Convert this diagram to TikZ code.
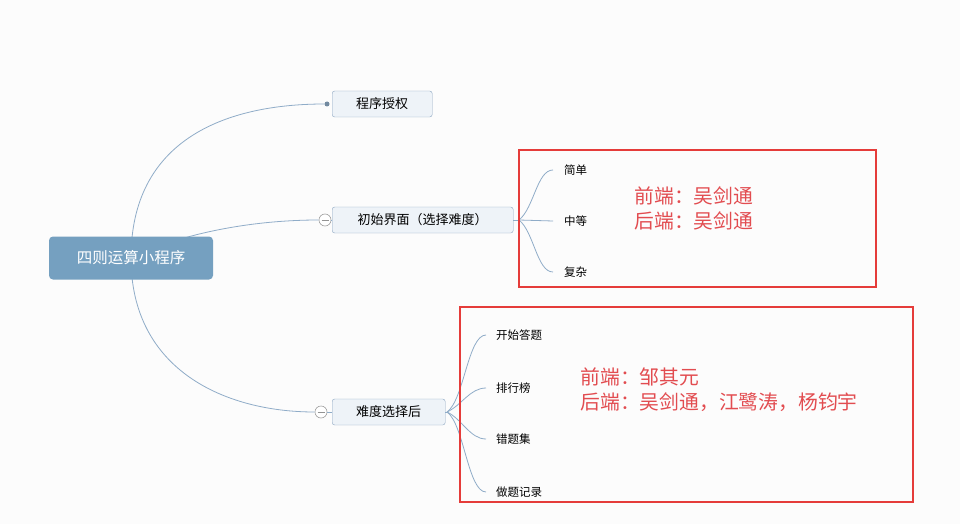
\documentclass[tikz,border=0pt]{standalone}
\usepackage{fontspec}
\newfontfamily\cjk{Noto Sans CJK SC}
\usetikzlibrary{positioning}
\definecolor{rootblue}{RGB}{117,160,192}
\definecolor{boxfill}{RGB}{238,243,248}
\definecolor{boxline}{RGB}{140,166,193}
\definecolor{linkblue}{RGB}{143,172,200}
\definecolor{markred}{RGB}{229,60,58}
\definecolor{notered}{RGB}{226,76,80}
\definecolor{paper}{RGB}{252,252,252}

\begin{document}
\begin{tikzpicture}[x=1pt, y=-1pt,
    root/.style={rectangle, fill=rootblue, text=white, rounded corners=4pt, minimum width=164pt, minimum height=43pt, font=\cjk\fontsize{15.5}{15.5}\selectfont},
    topic/.style={rectangle, draw=boxline, fill=boxfill, rounded corners=2.5pt, minimum height=26pt, anchor=west, font=\cjk\fontsize{13}{13}\selectfont},
    leaf/.style={anchor=west, inner sep=0pt, font=\cjk\fontsize{11.5}{11.5}\selectfont},
    link/.style={draw=linkblue, line width=0.8pt},
    fold/.style={circle, draw=gray!75, fill=white, minimum size=12pt, inner sep=0pt, line width=0.6pt,
        path picture={\draw[gray!85, line width=0.7pt] ([xshift=2.5pt]path picture bounding box.west) -- ([xshift=-2.5pt]path picture bounding box.east);}},
    knob/.style={circle, fill=linkblue!80!black, minimum size=5pt, inner sep=0pt},
    frame/.style={draw=markred, line width=2.8pt},
    note/.style={anchor=west, align=left, text=notered, font=\cjk\fontsize{19.8}{24.5}\selectfont}
]
\fill[paper] (0,0) rectangle (960,524);

% main topic and its three branches
\coordinate (hub) at (131,258);
\node[topic, minimum width=100pt] (auth) at (332,104) {程序授权};
\node[topic, minimum width=181pt] (start) at (332,220) {初始界面（选择难度）};
\node[topic, minimum width=113pt] (after) at (332,412) {难度选择后};
\node[knob] (dot) at (327,104) {};
\node[fold] (fold1) at (325,220) {};
\node[fold] (fold2) at (321,412) {};

\draw[link] (hub) .. controls (131,140) and (225,104) .. (dot);
\draw[link] (hub) .. controls (175,236) and (245,220) .. (fold1.west);
\draw[link] (hub) .. controls (131,370) and (225,412) .. (fold2.west);
\draw[link] (fold1) -- (start);
\draw[link] (fold2) -- (after);

\node[root] (root) at (hub) {四则运算小程序};

% difficulty levels
\node[leaf] (easy) at (564,170) {简单};
\node[leaf] (mid) at (564,221) {中等};
\node[leaf] (hard) at (564,272) {复杂};
\coordinate (fan1) at (519,220);
\draw[link] (start.east) -- (fan1);
\draw[link] (fan1) .. controls (534,208) and (537,170) .. ([xshift=-11pt]easy.west);
\draw[link] (fan1) -- ([xshift=-11pt]mid.west);
\draw[link] (fan1) .. controls (534,232) and (537,272) .. ([xshift=-11pt]hard.west);

% after choosing
\node[leaf] (quiz) at (496,335) {开始答题};
\node[leaf] (rank) at (496,388) {排行榜};
\node[leaf] (wrong) at (496,439) {错题集};
\node[leaf] (log) at (496,492) {做题记录};
\coordinate (fan2) at (447,412);
\draw[link] (after.east) -- (fan2);
\draw[link] (fan2) .. controls (464,400) and (468,335) .. ([xshift=-10pt]quiz.west);
\draw[link] (fan2) .. controls (462,405) and (470,388) .. ([xshift=-10pt]rank.west);
\draw[link] (fan2) .. controls (462,419) and (470,439) .. ([xshift=-10pt]wrong.west);
\draw[link] (fan2) .. controls (464,424) and (468,492) .. ([xshift=-10pt]log.west);

% red marks
\draw[frame] (519,150) rectangle (876,287);
\draw[frame] (460,307) rectangle (913,502);
\node[note] (team1) at (631,208.5) {前端：吴剑通\\后端：吴剑通};
\node[note] (team2) at (577,389.5) {前端：邹其元\\后端：吴剑通，江鹭涛，杨钧宇};
\end{tikzpicture}
\end{document}
